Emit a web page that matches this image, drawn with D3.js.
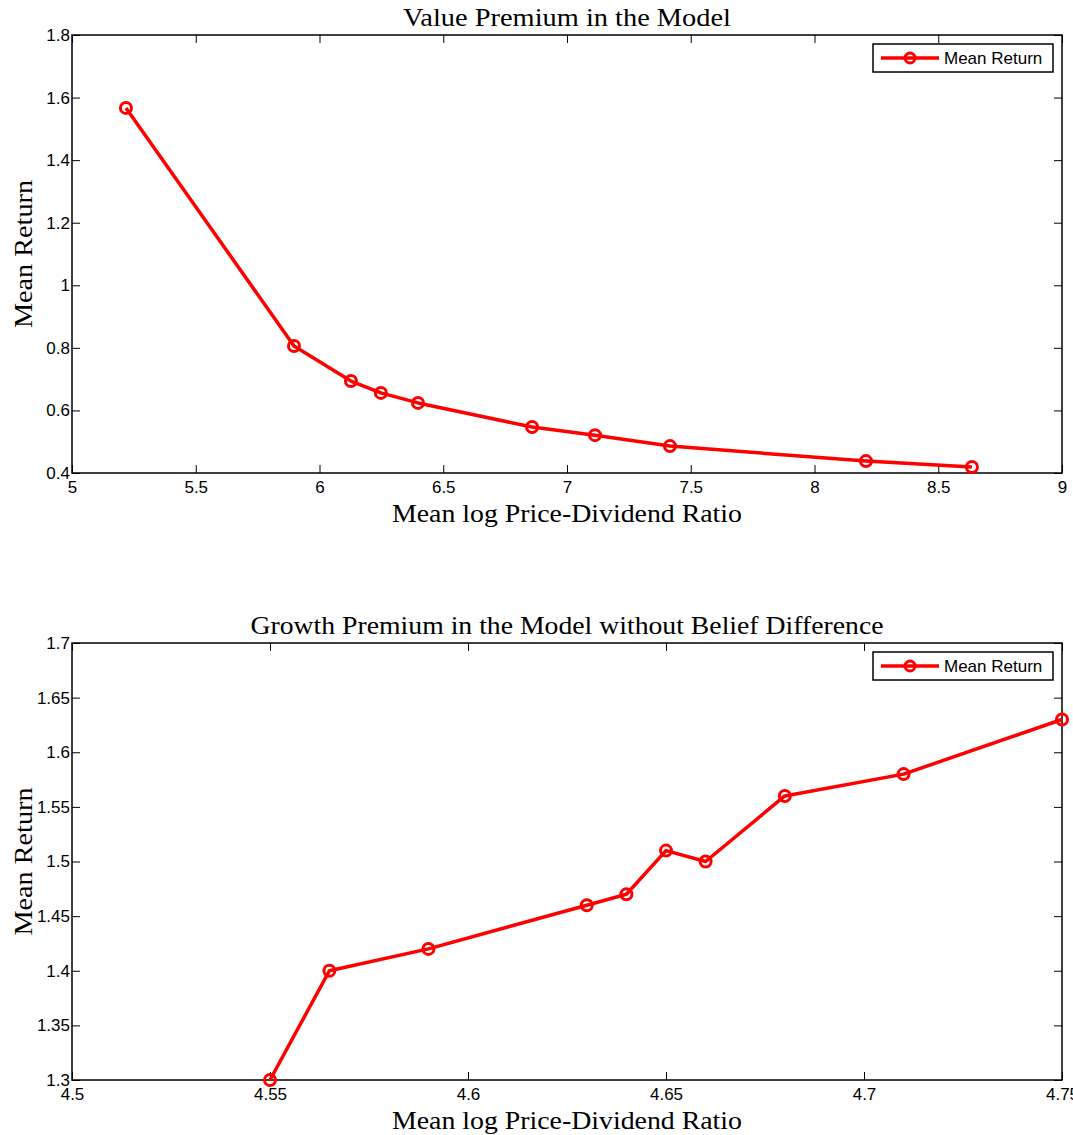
<!DOCTYPE html>
<html>
<head>
<meta charset="utf-8">
<script src="https://cdn.jsdelivr.net/npm/d3@7"></script>
<style>
  body { margin: 0; background: #fff; }
  svg { display: block; }
</style>
</head>
<body>
<svg id="chart" width="1073" height="1135"></svg>
<script>
// ---- Data ----
const topTitle = "Value Premium in the Model";
const topX = [5.218, 5.897, 6.127, 6.248, 6.398, 6.859, 7.113, 7.416, 8.208, 8.636];
const topY = [1.567, 0.806, 0.694, 0.656, 0.624, 0.547, 0.521, 0.486, 0.438, 0.419];
const topXTicks = [5, 5.5, 6, 6.5, 7, 7.5, 8, 8.5, 9];
const topYTicks = [0.4, 0.6, 0.8, 1, 1.2, 1.4, 1.6, 1.8];

const botTitle = "Growth Premium in the Model without Belief Difference";
const botX = [4.55, 4.565, 4.59, 4.63, 4.64, 4.65, 4.66, 4.68, 4.71, 4.75];
const botY = [1.30, 1.40, 1.42, 1.46, 1.47, 1.51, 1.50, 1.56, 1.58, 1.63];
const botXTicks = [4.5, 4.55, 4.6, 4.65, 4.7, 4.75];
const botYTicks = [1.3, 1.35, 1.4, 1.45, 1.5, 1.55, 1.6, 1.65, 1.7];

const xLabel = "Mean log Price-Dividend Ratio";
const yLabel = "Mean Return";
const legendLabel = "Mean Return";

const svg = d3.select("#chart");
const serif = "'Liberation Serif', 'DejaVu Serif', serif";
const sans = "'Liberation Sans', Arial, sans-serif";
const red = "#ff0000";

function panel(cfg) {
  const { left, right, top, bottom, xDom, yDom, xs, ys, xTicks, yTicks, title, titleLen } = cfg;
  const g = svg.append("g");
  const x = d3.scaleLinear().domain(xDom).range([left, right]);
  const y = d3.scaleLinear().domain(yDom).range([bottom, top]);
  const tl = 8;

  g.append("rect").attr("x", left).attr("y", top)
    .attr("width", right - left).attr("height", bottom - top)
    .attr("fill", "none").attr("stroke", "#000").attr("stroke-width", 1.5);

  const fmt = d => String(+d.toFixed(3));

  const xb = g.append("g").attr("transform", `translate(0,${bottom})`)
    .call(d3.axisBottom(x).tickValues(xTicks).tickSizeInner(-tl).tickSizeOuter(0).tickPadding(17).tickFormat(fmt));
  const xt = g.append("g").attr("transform", `translate(0,${top})`)
    .call(d3.axisTop(x).tickValues(xTicks).tickSizeInner(-tl).tickSizeOuter(0).tickFormat(""));
  const yl = g.append("g").attr("transform", `translate(${left},0)`)
    .call(d3.axisLeft(y).tickValues(yTicks).tickSizeInner(-tl).tickSizeOuter(0).tickPadding(4).tickFormat(fmt));
  const yr = g.append("g").attr("transform", `translate(${right},0)`)
    .call(d3.axisRight(y).tickValues(yTicks).tickSizeInner(-tl).tickSizeOuter(0).tickFormat(""));

  [xb, xt, yl, yr].forEach(a => {
    a.attr("font-size", null).attr("font-family", null);
    a.select(".domain").remove();
    a.selectAll(".tick line").attr("stroke", "#000").attr("stroke-width", 1);
    a.selectAll("text").style("font-family", sans).style("font-size", "17px").attr("fill", "#000");
  });
  xb.selectAll("text").attr("dy", "0.2em");
  yl.selectAll("text").attr("dx", "2px");

  const pts = xs.map((v, i) => [v, ys[i]]);
  g.append("path").datum(pts)
    .attr("d", d3.line().x(d => x(d[0])).y(d => y(d[1])))
    .attr("fill", "none").attr("stroke", red).attr("stroke-width", 3.5)
    .attr("stroke-linejoin", "round");
  g.selectAll("circle.m").data(pts).join("circle").attr("class", "m")
    .attr("cx", d => x(d[0])).attr("cy", d => y(d[1])).attr("r", 5.5)
    .attr("fill", "none").attr("stroke", red).attr("stroke-width", 3);

  g.append("text").attr("x", (left + right) / 2).attr("y", top - 9)
    .attr("text-anchor", "middle").attr("font-family", serif).attr("font-size", 24.5)
    .attr("textLength", titleLen).attr("lengthAdjust", "spacingAndGlyphs")
    .text(title);
  g.append("text").attr("x", (left + right) / 2).attr("y", bottom + 49)
    .attr("text-anchor", "middle").attr("font-family", serif).attr("font-size", 24.5)
    .attr("textLength", 350).attr("lengthAdjust", "spacingAndGlyphs")
    .text(xLabel);
  g.append("text").attr("transform", `translate(${32},${(top + bottom) / 2}) rotate(-90)`)
    .attr("text-anchor", "middle").attr("font-family", serif).attr("font-size", 24.5)
    .attr("textLength", 148).attr("lengthAdjust", "spacingAndGlyphs")
    .text(yLabel);

  const lx = 873, ly = top + 9, lw = 180, lh = 28;
  const lg = g.append("g");
  lg.append("rect").attr("x", lx).attr("y", ly).attr("width", lw).attr("height", lh)
    .attr("fill", "#fff").attr("stroke", "#000").attr("stroke-width", 1.5);
  lg.append("line").attr("x1", lx + 8).attr("x2", lx + 66).attr("y1", ly + lh / 2).attr("y2", ly + lh / 2)
    .attr("stroke", red).attr("stroke-width", 3.5);
  lg.append("circle").attr("cx", lx + 37).attr("cy", ly + lh / 2).attr("r", 5)
    .attr("fill", "none").attr("stroke", red).attr("stroke-width", 3);
  lg.append("text").attr("x", lx + 71).attr("y", ly + lh / 2).attr("dy", "0.36em")
    .attr("font-family", sans).attr("font-size", 17).text(legendLabel);
}

panel({ left: 72, right: 1062, top: 35, bottom: 473, xDom: [5, 9], yDom: [0.4, 1.8],
  xs: topX, ys: topY, xTicks: topXTicks, yTicks: topYTicks, title: topTitle, titleLen: 328 });
panel({ left: 72, right: 1062, top: 643, bottom: 1080, xDom: [4.5, 4.75], yDom: [1.3, 1.7],
  xs: botX, ys: botY, xTicks: botXTicks, yTicks: botYTicks, title: botTitle, titleLen: 633 });
</script>
</body>
</html>
